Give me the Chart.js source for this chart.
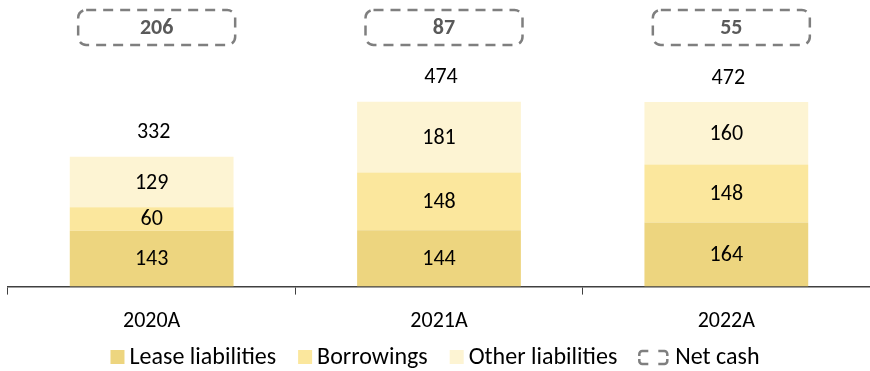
<!DOCTYPE html>
<html>
<head>
<meta charset="utf-8">
<script src="https://cdn.jsdelivr.net/npm/chart.js@4.4.1/dist/chart.umd.min.js"></script>
<style>
  html, body { margin: 0; padding: 0; background: #ffffff; }
  #wrap { width: 870px; height: 371px; position: relative; }
</style>
</head>
<body>
<div id="wrap"><canvas id="c"></canvas></div>
<script>
// Liabilities breakdown by year, with net cash shown above each column
const categories = ['2020A', '2021A', '2022A'];
const leaseLiabilities = [143, 144, 164];
const borrowings = [60, 148, 148];
const otherLiabilities = [129, 181, 160];
const totals = [332, 474, 472];
const netCash = [206, 87, 55];
const seriesNames = ['Lease liabilities', 'Borrowings', 'Other liabilities'];
const netCashName = 'Net cash';

const FONT = 'Carlito, Calibri, Lato, sans-serif';
const COLORS = { lease: '#EDD57F', borrow: '#FBE79D', other: '#FDF4D3', dash: '#7F7F7F', text: '#000000', netText: '#595959' };

function roundRectPath(ctx, x, y, w, h, r) {
  ctx.beginPath();
  ctx.moveTo(x + r, y);
  ctx.lineTo(x + w - r, y);
  ctx.arcTo(x + w, y, x + w, y + r, r);
  ctx.lineTo(x + w, y + h - r);
  ctx.arcTo(x + w, y + h, x + w - r, y + h, r);
  ctx.lineTo(x + r, y + h);
  ctx.arcTo(x, y + h, x, y + h - r, r);
  ctx.lineTo(x, y + r);
  ctx.arcTo(x, y, x + r, y, r);
  ctx.closePath();
}

// small "net cash" marker: four rounded corner brackets
function drawNetIcon(ctx, l, t, w, h) {
  const r = l + w, b = t + h, rad = 3, hx = 9, vy = 5;
  ctx.save();
  ctx.strokeStyle = COLORS.dash;
  ctx.lineWidth = 2.5;
  ctx.beginPath();
  ctx.moveTo(l, t + vy); ctx.arcTo(l, t, l + rad, t, rad); ctx.lineTo(l + hx, t);
  ctx.moveTo(r - hx, t); ctx.arcTo(r, t, r, t + rad, rad); ctx.lineTo(r, t + vy);
  ctx.moveTo(r, b - vy); ctx.arcTo(r, b, r - rad, b, rad); ctx.lineTo(r - hx, b);
  ctx.moveTo(l + hx, b); ctx.arcTo(l, b, l, b - rad, rad); ctx.lineTo(l, b - vy);
  ctx.stroke();
  ctx.restore();
}

// segment values, totals and net cash boxes
const labelsPlugin = {
  id: 'barLabels',
  afterDatasetsDraw(chart) {
    const ctx = chart.ctx;
    const yScale = chart.scales.y;
    ctx.save();
    ctx.textAlign = 'center';
    ctx.textBaseline = 'middle';
    ctx.font = '22px ' + FONT;
    ctx.fillStyle = COLORS.text;
    chart.data.datasets.forEach((ds, di) => {
      const meta = chart.getDatasetMeta(di);
      meta.data.forEach((bar, i) => {
        const p = bar.getProps(['x', 'y', 'base'], true);
        ctx.fillText(String(ds.data[i]), p.x, (p.y + p.base) / 2 + 1);
      });
    });
    const first = chart.getDatasetMeta(0);
    first.data.forEach((bar, i) => {
      const x = bar.x;
      const topY = yScale.getPixelForValue(totals[i]);
      ctx.fillStyle = COLORS.text;
      ctx.font = '22px ' + FONT;
      ctx.fillText(String(totals[i]), x + 2, topY - 24);

      // net cash box
      const bw = 157, bh = 35, bx = x + 5 - bw / 2, by = 10;
      ctx.strokeStyle = COLORS.dash;
      ctx.lineWidth = 2.5;
      ctx.setLineDash([10, 7]);
      roundRectPath(ctx, bx, by, bw, bh, 8);
      ctx.stroke();
      ctx.setLineDash([]);
      ctx.fillStyle = COLORS.netText;
      ctx.font = 'bold 22px ' + FONT;
      ctx.fillText(String(netCash[i]), bx + bw / 2, by + bh / 2 + 1);
    });
    ctx.restore();
  }
};

// legend row along the bottom edge
const legendPlugin = {
  id: 'bottomLegend',
  afterDraw(chart) {
    const ctx = chart.ctx;
    const cy = 357;
    const box = 14, textGap = 5, itemGap = 22, iconW = 28;
    ctx.save();
    ctx.font = '24px ' + FONT;
    ctx.textBaseline = 'middle';
    ctx.textAlign = 'left';
    const items = chart.data.datasets.map((ds) => ({ text: ds.label, color: ds.backgroundColor, w: box, gap: textGap }));
    items.push({ text: netCashName, icon: true, w: iconW, gap: textGap + 3 });
    let total = 0;
    items.forEach((it, i) => {
      it.tw = ctx.measureText(it.text).width;
      total += it.w + it.gap + it.tw + (i < items.length - 1 ? itemGap : 0);
    });
    let x = chart.width / 2 - total / 2;
    items.forEach((it) => {
      if (it.icon) {
        drawNetIcon(ctx, x, cy - 6, it.w, 13);
      } else {
        ctx.fillStyle = it.color;
        ctx.fillRect(x, cy - box / 2, box, box);
      }
      x += it.w + it.gap;
      ctx.fillStyle = COLORS.text;
      ctx.fillText(it.text, x, cy + 1);
      x += it.tw + itemGap;
    });
    ctx.restore();
  }
};

new Chart(document.getElementById('c'), {
  type: 'bar',
  data: {
    labels: categories,
    datasets: [
      { label: seriesNames[0], data: leaseLiabilities, backgroundColor: COLORS.lease },
      { label: seriesNames[1], data: borrowings, backgroundColor: COLORS.borrow },
      { label: seriesNames[2], data: otherLiabilities, backgroundColor: COLORS.other }
    ]
  },
  options: {
    responsive: true,
    maintainAspectRatio: false,
    animation: false,
    datasets: { bar: { categoryPercentage: 1, barPercentage: 0.57 } },
    layout: { padding: { top: 52, left: 8, right: 0, bottom: 22 } },
    scales: {
      x: {
        stacked: true,
        offset: true,
        grid: { display: true, drawOnChartArea: false, offset: true, tickLength: 8, color: '#404040', lineWidth: 1 },
        border: { display: true, color: '#404040', width: 1.5 },
        ticks: { color: '#000000', font: { family: FONT, size: 22 }, padding: 14 }
      },
      y: {
        stacked: true,
        display: false,
        min: 0,
        max: 600
      }
    },
    plugins: {
      tooltip: { enabled: false },
      legend: { display: false }
    }
  },
  plugins: [labelsPlugin, legendPlugin]
});
</script>
</body>
</html>
